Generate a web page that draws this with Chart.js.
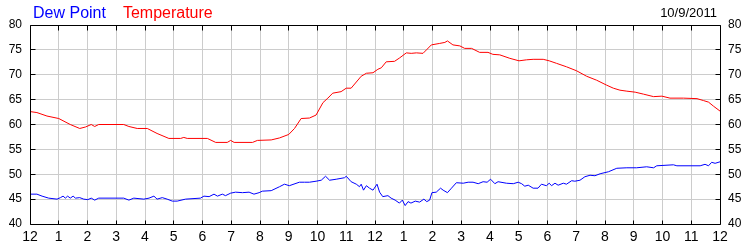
<!DOCTYPE html>
<html><head><meta charset="utf-8">
<script src="https://cdn.jsdelivr.net/npm/chart.js@4"></script>
<style>html,body{margin:0;padding:0;background:#fff}#wrap{width:750px;height:250px}</style>
</head><body><div id="wrap"><canvas id="c" width="750" height="250"></canvas></div>
<script>
const chartDate = '10/9/2011';
const hourLabels = ['12','1','2','3','4','5','6','7','8','9','10','11','12','1','2','3','4','5','6','7','8','9','10','11','12'];
const yTicks = [40,45,50,55,60,65,70,75,80];

const tempHours = [0,0.24,0.59,1.0,1.4,1.73,1.93,2.13,2.25,2.39,3.26,3.44,3.73,4.08,4.42,4.83,5.24,5.35,5.47,6.17,6.46,6.86,6.98,7.1,7.74,7.91,8.39,8.68,9.0,9.2,9.43,9.72,9.95,10.19,10.36,10.53,10.82,11.0,11.17,11.52,11.7,11.93,12.1,12.22,12.39,12.68,12.86,13.09,13.26,13.44,13.67,13.79,13.96,14.25,14.43,14.52,14.71,14.95,15.12,15.36,15.64,15.93,16.1,16.34,16.69,17.01,17.27,17.5,17.85,18.06,18.31,18.66,19.01,19.36,19.71,20.06,20.29,20.52,20.76,21.05,21.34,21.69,21.98,22.26,22.73,23.2,23.43,23.6,23.77,24.0];
const tempValues = [62.6,62.4,61.7,61.2,60.0,59.2,59.5,60.0,59.6,60.0,60.0,59.6,59.2,59.2,58.2,57.2,57.2,57.4,57.2,57.2,56.4,56.4,56.8,56.4,56.4,56.8,56.9,57.3,58.0,59.2,61.2,61.3,61.9,64.4,65.3,66.3,66.6,67.3,67.3,69.7,70.3,70.4,71.1,71.4,72.6,72.7,73.4,74.4,74.3,74.4,74.3,75.0,76.0,76.3,76.5,76.8,76.0,75.8,75.3,75.3,74.5,74.5,74.1,74.0,73.3,72.8,73.0,73.1,73.1,72.8,72.3,71.6,70.8,69.7,68.9,67.9,67.3,66.9,66.7,66.5,66.1,65.6,65.7,65.3,65.3,65.2,64.8,64.5,63.7,62.7];

const dewHours = [0,0.24,0.42,0.65,0.94,1.06,1.15,1.23,1.31,1.4,1.5,1.58,1.73,1.87,2.01,2.13,2.25,2.39,3.26,3.44,3.61,3.96,4.14,4.31,4.42,4.6,4.77,4.95,5.12,5.41,5.93,6.05,6.23,6.4,6.52,6.69,6.8,6.98,7.15,7.39,7.62,7.79,7.97,8.08,8.39,8.68,8.85,9.02,9.37,9.55,9.72,9.95,10.13,10.28,10.42,10.65,10.94,11.0,11.17,11.35,11.46,11.52,11.6,11.7,11.81,11.93,12.07,12.16,12.27,12.45,12.56,12.7,12.85,12.95,13.05,13.15,13.25,13.4,13.55,13.7,13.8,13.9,13.98,14.13,14.28,14.37,14.52,14.66,14.83,15.07,15.24,15.41,15.59,15.76,15.9,16.02,16.17,16.28,16.57,16.81,16.98,17.1,17.21,17.33,17.5,17.67,17.79,17.96,18.06,18.14,18.26,18.37,18.55,18.66,18.84,18.95,19.13,19.3,19.48,19.65,19.83,20.12,20.41,20.76,21.1,21.45,21.69,21.8,22.38,22.5,23.31,23.48,23.6,23.71,23.83,24.0];
const dewValues = [46.0,46.0,45.6,45.2,45.0,45.3,45.6,45.2,45.6,45.2,45.6,45.2,45.3,45.0,44.9,45.2,44.8,45.2,45.2,44.8,45.2,45.0,45.2,45.6,45.0,45.3,45.0,44.6,44.6,45.0,45.2,45.6,45.5,46.0,45.6,46.0,45.7,46.2,46.4,46.3,46.4,46.0,46.3,46.6,46.7,47.5,48.0,47.7,48.4,48.4,48.4,48.6,48.8,49.6,48.8,49.0,49.3,49.6,48.5,48.0,47.5,48.0,46.8,47.7,47.2,46.8,48.0,46.4,45.5,45.7,45.2,44.8,44.2,44.8,43.7,44.5,44.2,44.6,44.4,45.0,44.5,44.8,46.3,46.4,47.2,46.8,46.3,47.2,48.3,48.2,48.4,48.4,48.1,48.5,48.4,49.0,48.1,48.5,48.2,48.1,48.4,48.1,47.6,47.8,47.2,47.2,48.0,47.7,48.2,47.7,48.2,47.8,48.2,48.0,48.7,48.6,48.8,49.5,49.8,49.7,50.1,50.5,51.2,51.3,51.3,51.5,51.3,51.7,51.9,51.7,51.7,52.0,51.7,52.4,52.2,52.5];

const FONT = '"Liberation Sans", Arial, sans-serif';
const XFONT = '"Liberation Sans Narrow", "Arial Narrow", "Liberation Sans", sans-serif';

const framePlugin = {
  id: 'frame',
  afterDraw(chart) {
    const ctx = chart.ctx, a = chart.chartArea;
    const xs = chart.scales.x, ys = chart.scales.y;
    const L = Math.round(a.left) + 0.5, R = Math.round(a.right) + 0.5;
    const T = Math.round(a.top) + 0.5, B = Math.round(a.bottom) + 0.5;
    ctx.save();
    ctx.strokeStyle = '#000'; ctx.lineWidth = 1;
    ctx.beginPath();
    ctx.rect(L, T, R - L, B - T);
    for (let h = 1; h < hourLabels.length - 1; h++) {
      const px = Math.round(xs.getPixelForValue(h) - 0.5) + 0.5;
      ctx.moveTo(px, T); ctx.lineTo(px, T + 5);
      ctx.moveTo(px, B); ctx.lineTo(px, B - 4);
    }
    for (const v of yTicks) {
      const py = Math.round(ys.getPixelForValue(v) - 0.5) + 0.5;
      ctx.moveTo(L, py); ctx.lineTo(L + 5, py);
      ctx.moveTo(R, py); ctx.lineTo(R - 5, py);
    }
    ctx.stroke();
    // header texts
    ctx.textBaseline = 'alphabetic';
    ctx.font = '16px ' + FONT;
    let x = 33;
    chart.data.datasets.forEach(ds => {
      ctx.fillStyle = ds.borderColor;
      ctx.textAlign = 'left';
      ctx.fillText(ds.label, x, 17.5);
      x += ctx.measureText(ds.label).width + 17;
    });
    ctx.font = '13px ' + FONT;
    ctx.fillStyle = '#000';
    ctx.textAlign = 'right';
    ctx.fillText(chartDate, 717, 17);
    ctx.restore();
  }
};

new Chart(document.getElementById('c'), {
  type: 'line',
  data: {
    datasets: [
      { label: 'Dew Point', data: dewHours.map((h, i) => ({ x: h, y: dewValues[i] })),
        borderColor: '#0000ff', borderWidth: 1, pointRadius: 0, tension: 0, fill: false, yAxisID: 'y' },
      { label: 'Temperature', data: tempHours.map((h, i) => ({ x: h, y: tempValues[i] })),
        borderColor: '#ff0000', borderWidth: 1, pointRadius: 0, tension: 0, fill: false, yAxisID: 'y' }
    ]
  },
  options: {
    responsive: false, animation: false, devicePixelRatio: 1,
    layout: { padding: { top: 25, left: 0, right: 0, bottom: 0 } },
    plugins: { legend: { display: false }, tooltip: { enabled: false }, title: { display: false } },
    scales: {
      x: {
        type: 'linear', min: 0, max: 24,
        afterBuildTicks: s => { s.ticks = hourLabels.map((_, i) => ({ value: i })); },
        afterFit: s => { s.height = 26; },
        ticks: { autoSkip: false, maxRotation: 0, padding: 5, color: '#000',
                 font: { family: XFONT, size: 14 }, callback: v => hourLabels[v] },
        grid: { color: '#cccccc', drawTicks: false },
        border: { display: false }
      },
      y: {
        position: 'left', min: 40, max: 80,
        afterBuildTicks: s => { s.ticks = yTicks.map(v => ({ value: v })); },
        afterFit: s => { s.width = 30; },
        ticks: { padding: 8, color: '#000', font: { family: FONT, size: 12 } },
        grid: { color: '#cccccc', drawTicks: false },
        border: { display: false }
      },
      y2: {
        position: 'right', min: 40, max: 80,
        afterBuildTicks: s => { s.ticks = yTicks.map(v => ({ value: v })); },
        afterFit: s => { s.width = 30; },
        ticks: { padding: 8, color: '#000', font: { family: FONT, size: 12 } },
        grid: { drawOnChartArea: false, drawTicks: false },
        border: { display: false }
      }
    }
  },
  plugins: [framePlugin]
});
</script>
</body></html>
